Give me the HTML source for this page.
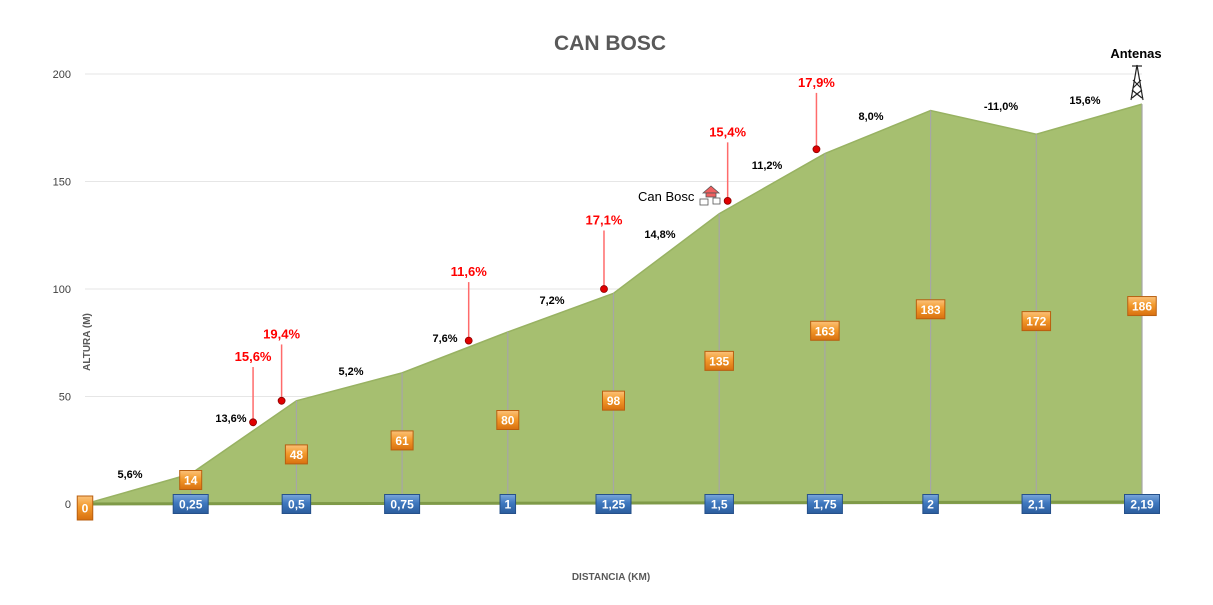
<!DOCTYPE html>
<html><head><meta charset="utf-8">
<style>
body{margin:0;background:#fff;font-family:"Liberation Sans",Arial,sans-serif;}
svg text{font-family:"Liberation Sans",Arial,sans-serif;}
</style></head>
<body>
<svg id="chart" width="1213" height="605" viewBox="0 0 1213 605" xmlns="http://www.w3.org/2000/svg" style="position:absolute;left:0;top:0">
<defs>
<linearGradient id="og" x1="0" y1="0" x2="0" y2="1"><stop offset="0" stop-color="#fbc27a"/><stop offset="0.45" stop-color="#f39a2c"/><stop offset="1" stop-color="#d8700f"/></linearGradient>
<linearGradient id="bg" x1="0" y1="0" x2="0" y2="1"><stop offset="0" stop-color="#7ba7dc"/><stop offset="0.45" stop-color="#3f78bf"/><stop offset="1" stop-color="#2b5c9c"/></linearGradient>
</defs>
<text x="610" y="50" text-anchor="middle" font-size="21" font-weight="bold" fill="#595959">CAN BOSC</text>
<text transform="translate(90,342) rotate(-90)" text-anchor="middle" font-size="10" font-weight="bold" fill="#595959">ALTURA (M)</text>
<text x="611" y="580" text-anchor="middle" font-size="10" font-weight="bold" fill="#595959">DISTANCIA (KM)</text>
<g id="grid"></g><g id="area"></g><g id="vlines"></g><g id="annot"></g><g id="labels"></g>
</svg>
<script>
const categories=["0","0,25","0,5","0,75","1","1,25","1,5","1,75","2","2,1","2,19"];
const elevations=[0,14,48,61,80,98,135,163,183,172,186];
const yTicks=[0,50,100,150,200];
const slopeLabels=["5,6%","13,6%","5,2%","7,6%","7,2%","14,8%","11,2%","8,0%","-11,0%","15,6%"];
const slopeLabelPos=[[130,478],[231,422],[351,375],[445,342],[552,304],[660,238],[767,169],[871,120],[1001,110],[1085,104]];
const peakLabels=["15,6%","19,4%","11,6%","17,1%","15,4%","17,9%"];
const peakIdx=[1.59,1.86,3.63,4.91,6.08,6.92];
const peakElev=[38,48,76,100,141,165];
const peakLabelElev=[66.5,77,106,130,171,194];

const NS="http://www.w3.org/2000/svg";
const x0=85,dx=105.7,yBase=504,yScale=2.15;
const X=i=>x0+i*dx, Y=v=>yBase-v*yScale;
function el(t,a,p){const e=document.createElementNS(NS,t);for(const k in a)e.setAttribute(k,a[k]);document.getElementById(p).appendChild(e);return e;}
yTicks.forEach(t=>{
 const l=el('line',{x1:85,x2:1142,y1:Y(t),y2:Y(t),stroke:'#e6e6e6','stroke-width':1},'grid');
 
 
 const tx=el('text',{x:71,y:Y(t)+4,'text-anchor':'end','font-size':11,fill:'#404040'},'grid');tx.textContent=t;
 
 
});
let d='M'+X(0)+','+yBase;elevations.forEach((v,i)=>d+=' L'+X(i)+','+Y(v));d+=' L'+X(elevations.length-1)+','+yBase+' Z';
const areaPath=el('path',{d:d,fill:'#a6bf70'},'area');


let d2='';elevations.forEach((v,i)=>d2+=(i?' L':'M')+X(i)+','+Y(v));
const topLine=el('path',{d:d2,fill:'none',stroke:'#98b262','stroke-width':1.5},'area');


const baseLine=el('line',{x1:X(0),x2:X(10),y1:yBase,y2:yBase-2,stroke:'#7f9a48','stroke-width':3},'area');


function box(cx,cy,txt,grad,name,h){
 h=h||19;
 const w=txt.length*6.5+9;
 const r=el('rect',{x:cx-w/2,y:cy-h/2,width:w,height:h,fill:'url(#'+grad+')',stroke:grad=='og'?'#b85f10':'#25508a','stroke-width':1},'labels');
 
 
 const t=el('text',{x:cx,y:cy+4.5,'text-anchor':'middle','font-size':12,'font-weight':'bold',fill:'#fff'},'labels');t.textContent=txt;
 
 
}
elevations.forEach((v,i)=>{
 if(i>0){const l=el('line',{x1:X(i),x2:X(i),y1:Y(v),y2:yBase,stroke:'#a6a6a6','stroke-width':1.2},'vlines');
 
 }
});
elevations.forEach((v,i)=>{
 if(i>0) box(X(i),yBase,categories[i],'bg','x-tick-'+i);
 if(i==0) box(X(i),508,String(v),'og','elevation-label-'+i,24);
 else box(X(i),Math.min(Y(v/2)+2,yBase-24),String(v),'og','elevation-label-'+i);
});
slopeLabels.forEach((s,i)=>{
 const t=el('text',{x:slopeLabelPos[i][0],y:slopeLabelPos[i][1],'text-anchor':'middle','font-size':11,'font-weight':'bold',fill:'#000'},'annot');t.textContent=s;
 
 
});
peakLabels.forEach((s,i)=>{
 const cx=X(peakIdx[i]);
 const my=Y(peakElev[i]),ly=Y(peakLabelElev[i]);
 const l=el('line',{x1:cx,x2:cx,y1:my,y2:ly+6,stroke:'#ff6b6b','stroke-width':1.5},'annot');
 
 
 const c=el('circle',{cx:cx,cy:my,r:3.5,fill:'#e00000',stroke:'#800','stroke-width':0.8},'annot');
 
 
 const t=el('text',{x:cx,y:ly,'text-anchor':'middle','font-size':13,'font-weight':'bold',fill:'#ff0000'},'annot');t.textContent=s;
 
 
});
</script>
<svg style="position:absolute;left:0;top:0" width="1213" height="605">
<text x="638" y="201" font-size="13" font-family="Liberation Sans" fill="#000">Can Bosc</text>
<g stroke="#555" stroke-width="0.8">
<polygon points="703,193 711,186 719,193" fill="#f06060"/>
<rect x="706" y="193" width="10" height="4" fill="#f06060"/>
<rect x="700" y="199" width="8" height="6" fill="#fff"/><rect x="713" y="198" width="7" height="6" fill="#fff"/>
</g>
<text x="1136" y="58" text-anchor="middle" font-size="13" font-weight="bold" font-family="Liberation Sans" fill="#000">Antenas</text>
<g stroke="#222" stroke-width="1.2" fill="none">
<line x1="1137" y1="65" x2="1131" y2="100"/><line x1="1137" y1="65" x2="1143" y2="100"/>
<line x1="1133" y1="80" x2="1141" y2="88"/><line x1="1141" y1="80" x2="1133" y2="88"/>
<line x1="1132" y1="90" x2="1142" y2="98"/><line x1="1142" y1="90" x2="1132" y2="98"/>
<line x1="1132" y1="66" x2="1142" y2="66"/>
</g>
</svg>
</body></html>
